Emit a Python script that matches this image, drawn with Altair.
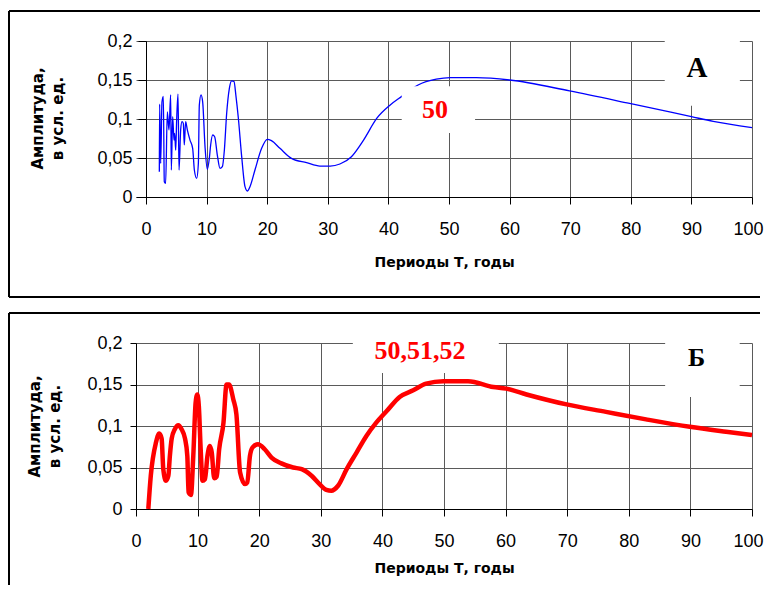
import altair as alt
import pandas as pd

# ---------------- data ----------------
# Panel A (blue thin line): period T (years) and amplitude
a_period = [2.20, 2.25, 2.42, 2.64, 2.86, 3.02, 3.24, 3.52, 3.79, 4.07, 4.18, 4.40, 4.62,
            4.73, 4.90, 5.06, 5.28, 5.45, 5.72, 5.94, 6.16, 6.32, 6.54, 6.82, 7.26, 7.70,
            7.98, 8.36, 8.64, 8.80, 9.08, 9.35, 9.74, 10.12, 10.45, 10.67, 11.0, 11.33,
            11.77, 12.21, 12.6, 12.93, 13.31, 13.75, 14.13, 14.52, 14.85, 15.24, 15.79,
            16.34, 16.72, 17.16, 17.98, 19.08, 20.02, 20.7, 22.1, 24.0, 26.5, 28.7, 30.4,
            32.0, 33.9, 35.9, 38.1, 40.3, 42.2, 44.9, 47.9, 50.2, 54.5, 60.0, 69.9, 79.8,
            90.0, 93.6, 100.0]
a_amp = [0.0325, 0.119, 0.043, 0.122, 0.129, 0.0195, 0.0175, 0.109, 0.086, 0.131, 0.0346,
         0.103, 0.073, 0.0816, 0.060, 0.0987, 0.132, 0.0346, 0.086, 0.0966, 0.0944, 0.0667,
         0.0966, 0.086, 0.073, 0.0624, 0.0346, 0.024, 0.043, 0.118, 0.131, 0.122, 0.0645,
         0.0355, 0.0496, 0.0667, 0.0795, 0.0773, 0.0538, 0.0368, 0.0389, 0.060, 0.107,
         0.139, 0.149, 0.148, 0.129, 0.101, 0.0517, 0.0132, 0.0077, 0.0132, 0.0346,
         0.0624, 0.074, 0.0722, 0.0624, 0.0496, 0.044, 0.0397, 0.0397, 0.0423, 0.0517,
         0.073, 0.101, 0.118, 0.129, 0.1436, 0.151, 0.153, 0.153, 0.150, 0.136, 0.120,
         0.103, 0.097, 0.089]

# Panel Б (red thick line)
b_period = [2.0, 2.4, 3.24, 3.78, 4.16, 4.43, 4.87, 5.25, 5.5, 5.8, 6.3, 6.87, 7.4, 7.95,
            8.33, 8.54, 8.92, 9.3, 9.68, 9.95, 10.2, 10.5, 10.8, 11.2, 11.6, 12.0, 12.3,
            12.7, 13.1, 13.5, 14.2, 14.7, 15.1, 15.8, 16.3, 16.9, 17.7, 18.06, 18.5, 18.9,
            19.8, 20.9, 22.0, 23.6, 25.5, 26.9, 28.5, 29.8, 30.9, 31.7, 32.8, 34.2, 35.8,
            37.4, 39.0, 40.7, 42.8, 45.0, 47.1, 49.9, 53.9, 58.0, 60.1, 63.4, 69.9, 76.3,
            82.8, 89.9, 95.8, 100.0]
b_amp = [0.0, 0.040, 0.080, 0.091, 0.085, 0.048, 0.034, 0.040, 0.064, 0.085, 0.096, 0.101,
         0.096, 0.085, 0.064, 0.020, 0.017, 0.064, 0.128, 0.138, 0.124, 0.072, 0.034,
         0.036, 0.064, 0.076, 0.068, 0.037, 0.039, 0.072, 0.104, 0.150, 0.150, 0.132,
         0.114, 0.044, 0.030, 0.032, 0.064, 0.074, 0.078, 0.072, 0.062, 0.055, 0.050,
         0.048, 0.040, 0.030, 0.023, 0.022, 0.028, 0.048, 0.068, 0.088, 0.104, 0.118,
         0.135, 0.143, 0.151, 0.154, 0.154, 0.147, 0.145, 0.138, 0.126, 0.117, 0.108,
         0.099, 0.093, 0.089]

x_ticks = [0, 10, 20, 30, 40, 50, 60, 70, 80, 90, 100]
y_ticks = [0, 0.05, 0.1, 0.15, 0.2]
x_title = "Периоды Т, годы"
y_title = ["Амплитуда,", "в усл. ед."]

# annotation labels (data coordinates)
a_red_text, a_red_x, a_red_y = ["50"], [47.7], [0.1115]
a_blk_text, a_blk_x, a_blk_y = ["А"], [90.9], [0.165]
b_red_text, b_red_x, b_red_y = ["50,51,52"], [46.1], [0.1905]
b_blk_text, b_blk_x, b_blk_y = ["Б"], [91.0], [0.182]

# white label boxes (data coordinates)
a_box_x, a_box_x2, a_box_y, a_box_y2 = [42.2, 85.6], [54.3, 98.0], [0.082, 0.117], [0.142, 0.23]
b_box_x, b_box_x2, b_box_y, b_box_y2 = [35.2, 85.9], [58.9, 98.0], [0.164, 0.135], [0.23, 0.23]

# x-domain of each panel (panel A's plot frame starts a little left of T=0)
a_x_domain = [-1.65, 100]
b_x_domain = [0, 100]

SANS = "Liberation Sans"
TSANS = "DejaVu Sans"
SERIF = "Liberation Serif"


def panel(period, amp, color, sw, w, h, xdom, yoff, frame, ytx, yty, xty, tick, lpad,
          box, red, blk, red_size, blk_size):
    df = pd.DataFrame({"T": period, "A": amp})
    xs = alt.Scale(domain=xdom, nice=False, zero=False)
    ys = alt.Scale(domain=[0, 0.2], nice=False)
    xaxis = alt.Axis(values=x_ticks, tickCount=11, title=x_title, labelFont=SANS,
                     labelFontSize=18, labelColor="black", tickSize=7, labelPadding=16,
                     labelOffset={"condition": {"test": "datum.value === 100", "value": -4},
                                  "value": 0},
                     titleFont=TSANS, titleFontSize=14, titleFontWeight="bold",
                     titleColor="black", titleY=xty, titleBaseline="middle",
                     labelFlush=False, labelOverlap=False)
    yaxis = alt.Axis(values=y_ticks, tickCount=5, title=y_title,
                     labelExpr="replace(toString(datum.value), '.', ',')",
                     labelFont=SANS, labelFontSize=18, labelColor="black",
                     tickSize=tick, labelPadding=lpad, titleFont=TSANS, titleFontSize=15,
                     titleFontWeight="bold", titleColor="black", titleAngle=-90,
                     titleX=ytx, titleY=yty, titleAlign="center", titleBaseline="middle",
                     titleLineHeight=20, labelFlush=False, labelOverlap=False,
                     offset=yoff)
    line = alt.Chart(df).mark_line(color=color, strokeWidth=sw, interpolate="monotone").encode(
        x=alt.X("T:Q", scale=xs, axis=xaxis),
        y=alt.Y("A:Q", scale=ys, axis=yaxis),
    )
    bdf = pd.DataFrame({"T": box[0], "T2": box[1], "A": box[2], "A2": box[3]})
    boxes = alt.Chart(bdf).mark_rect(color="white", clip=False).encode(
        x="T:Q", x2="T2", y="A:Q", y2="A2")
    rdf = pd.DataFrame({"T": red[1], "A": red[2], "lab": red[0]})
    red_t = alt.Chart(rdf).mark_text(color="#ff0000", font=SERIF, fontWeight="bold",
                                     fontSize=red_size, align="center", baseline="middle",
                                     clip=False).encode(x="T:Q", y="A:Q", text="lab:N")
    kdf = pd.DataFrame({"T": blk[1], "A": blk[2], "lab": blk[0]})
    blk_t = alt.Chart(kdf).mark_text(color="black", font=SERIF, fontWeight="bold",
                                     fontSize=blk_size, align="center", baseline="middle",
                                     clip=False).encode(x="T:Q", y="A:Q", text="lab:N")
    one = pd.DataFrame({"k": [0]})
    fl, ft, fr, fb, draw_bottom = frame
    layers = [line, boxes, red_t, blk_t,
              alt.Chart(one).mark_rule(color="black", strokeWidth=2).encode(
                  x=alt.value(fl), x2=alt.value(fr), y=alt.value(ft)),
              alt.Chart(one).mark_rule(color="black", strokeWidth=2).encode(
                  x=alt.value(fl), y=alt.value(ft), y2=alt.value(fb))]
    if draw_bottom:
        layers.append(alt.Chart(one).mark_rule(color="black", strokeWidth=2).encode(
            x=alt.value(fl), x2=alt.value(fr), y=alt.value(fb)))
    return alt.layer(*layers).properties(width=w, height=h)


top = panel(a_period, a_amp, "#0000ff", 1.3, 616, 156, a_x_domain, -10,
            (-127, -30, 624, 256, True),
            -109, 77, 65, 8, 6,
            (a_box_x, a_box_x2, a_box_y, a_box_y2),
            (a_red_text, a_red_x, a_red_y), (a_blk_text, a_blk_x, a_blk_y), 26, 29)
bottom = panel(b_period, b_amp, "#ff0000", 4.5, 616, 166, b_x_domain, 0,
               (-127, -30, 624, 242, False),
               -102, 83, 59, 6, 8,
               (b_box_x, b_box_x2, b_box_y, b_box_y2),
               (b_red_text, b_red_x, b_red_y), (b_blk_text, b_blk_x, b_blk_y), 26, 26)

chart = alt.vconcat(top, bottom, spacing=14).properties(
    padding={"left": 0, "top": 2, "right": 0, "bottom": 0},
    background="white",
).configure_view(stroke=None).configure_axis(
    gridColor="#5a5a5a", gridWidth=1, gridOpacity=1, domainColor="black",
    domainWidth=1, tickColor="black", tickWidth=1,
)

chart.save("out.html", embed_options={"renderer": "svg", "actions": False})
